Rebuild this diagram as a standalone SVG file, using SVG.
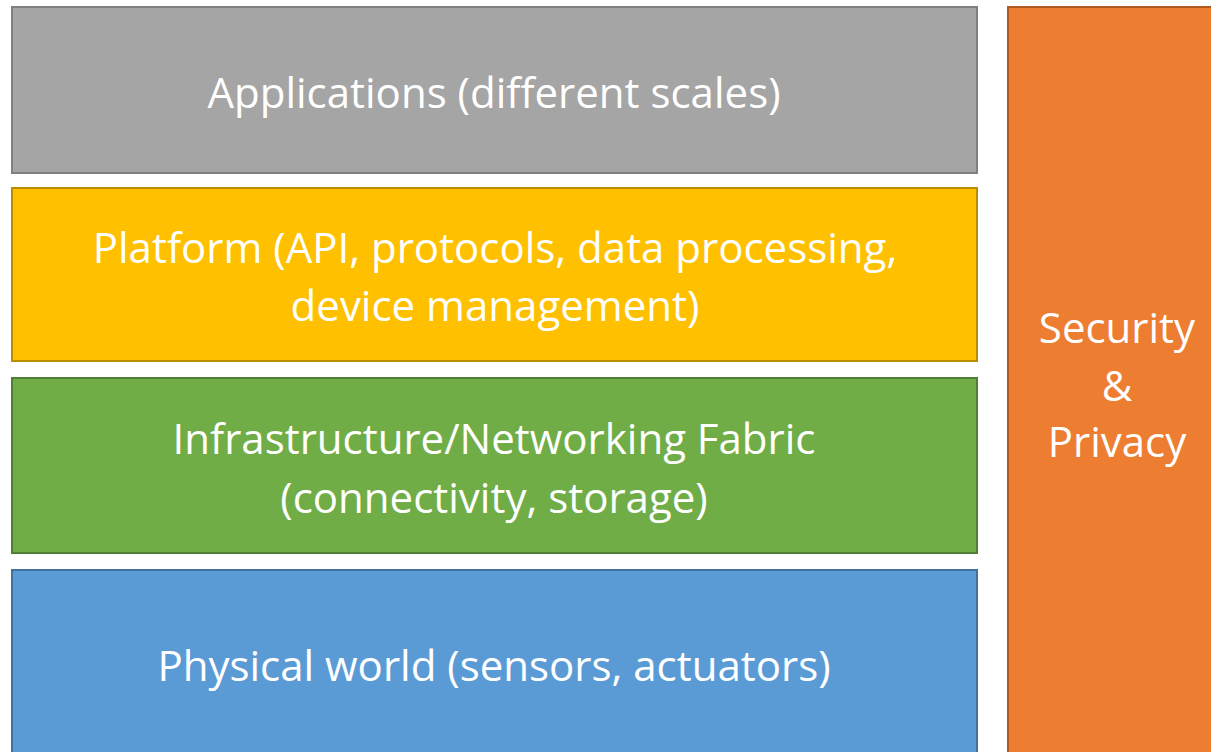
<svg xmlns="http://www.w3.org/2000/svg" width="1211" height="752" viewBox="0 0 1211 752">
<style>
text{font-family:"Open Sans","Liberation Sans",sans-serif;font-size:42px;fill:#fff;text-anchor:middle;dominant-baseline:central}
rect{stroke-width:2}
</style>
<rect width="1211" height="752" fill="#fff" stroke="none"/>
<g id="applications">
<rect x="12" y="7" width="965" height="166" fill="#A5A5A5" stroke="#7F7F7F"/>
<text x="494" y="91">Applications (different scales)</text>
</g>
<g id="platform">
<rect x="12" y="188" width="965" height="173" fill="#FFC000" stroke="#BC8C00"/>
<text x="495" y="246">Platform (API, protocols, data processing,</text>
<text x="495" y="304">device management)</text>
</g>
<g id="infrastructure">
<rect x="12" y="378" width="965" height="175" fill="#70AD47" stroke="#507E32"/>
<text x="494" y="437">Infrastructure/Networking Fabric</text>
<text x="494" y="496">(connectivity, storage)</text>
</g>
<g id="physical">
<rect x="12" y="570" width="965" height="200" fill="#5B9BD5" stroke="#41719C"/>
<text x="494" y="664">Physical world (sensors, actuators)</text>
</g>
<g id="security">
<rect x="1008" y="7" width="220" height="770" fill="#ED7D31" stroke="#AE5A21"/>
<text x="1117" y="326">Security</text>
<text x="1117" y="384">&amp;</text>
<text x="1117" y="440">Privacy</text>
</g>
<g id="connectors"></g>
</svg>
